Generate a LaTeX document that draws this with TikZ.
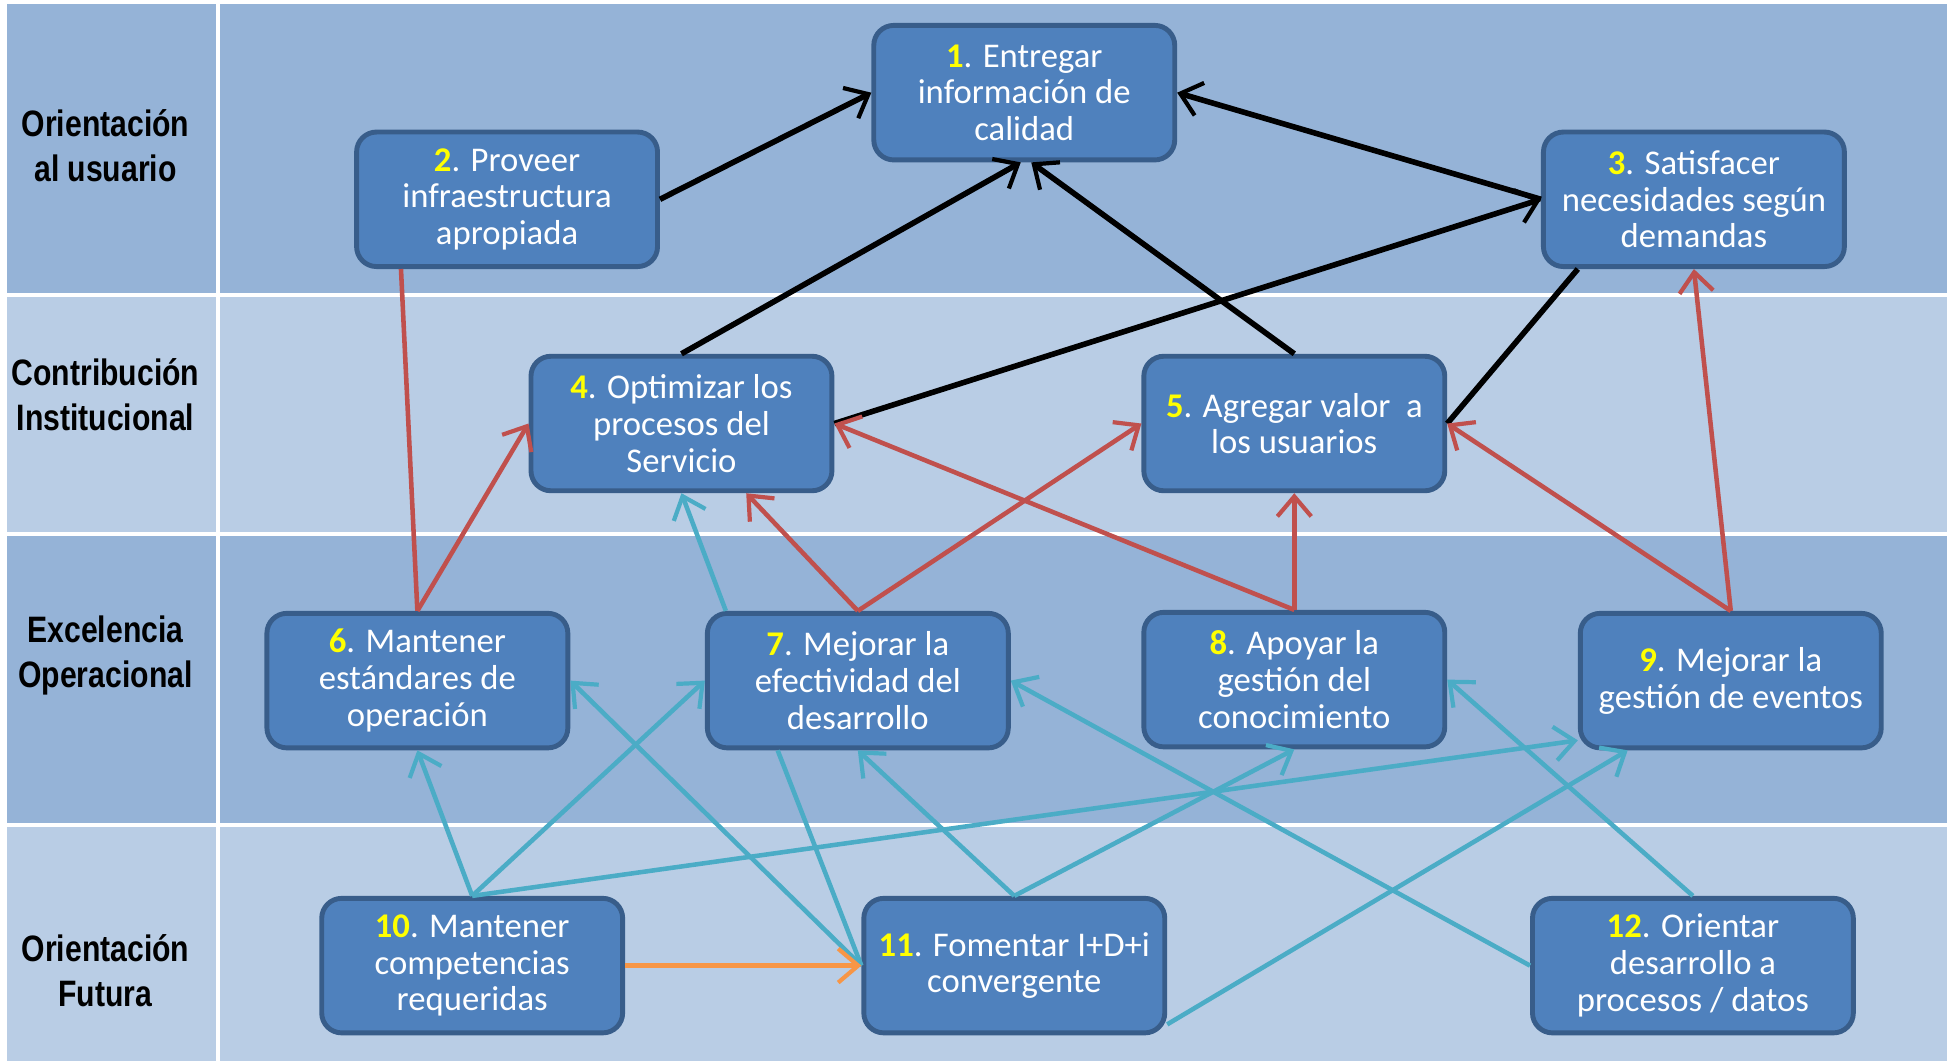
\documentclass[tikz,border=0pt]{standalone}
\usepackage{fontspec}
\setmainfont{Carlito}
\newfontfamily\sidefont[FakeStretch=0.82]{Liberation Sans}
\usetikzlibrary{arrows.meta}

\definecolor{banddark}{HTML}{95B3D7}
\definecolor{bandlight}{HTML}{B9CDE5}
\definecolor{goalfill}{HTML}{4F81BD}
\definecolor{goaldraw}{HTML}{385D8A}
\definecolor{linkred}{HTML}{C0504D}
\definecolor{linkcyan}{HTML}{4BACC6}
\definecolor{linkorange}{HTML}{F79646}
\definecolor{numyellow}{HTML}{FFFF00}

\newcommand{\goalnum}[1]{\textcolor{numyellow}{\bfseries #1}}

\tikzset{
  goal/.style={rectangle, rounded corners=0.2cm, draw=goaldraw, line width=1.4pt,
    fill=goalfill, text=white, align=center, minimum width=3.02cm, minimum height=1.35cm,
    inner sep=1pt, font=\fontsize{9.9}{10.5}\selectfont},
  side/.style={align=center, font=\sidefont\bfseries\fontsize{10.5}{12.8}\selectfont},
  link/.style={line width=1.3pt},
  blacklink/.style={line width=1.6pt, black},
  >={Straight Barb[length=2mm,width=3.4mm,line width=1.2pt]}
}

\begin{document}
\begin{tikzpicture}

\fill[white] (0,0) rectangle (19.51,10.65);

% -- bands
\fill[banddark] (0,7.70) rectangle (19.47,10.61);
\fill[bandlight] (0,5.30) rectangle (19.47,7.70);
\fill[banddark] (0,2.37) rectangle (19.47,5.30);
\fill[bandlight] (0,0) rectangle (19.47,2.37);

\draw[white,line width=1.1pt] (0,7.69) -- (19.47,7.69);
\draw[white,line width=1.1pt] (0,5.29) -- (19.47,5.29);
\draw[white,line width=1.1pt] (0,2.37) -- (19.47,2.37);
\draw[white,line width=1.1pt] (2.12,0) -- (2.12,10.61);

\node [side] (usuario) at (0.99,9.19) {Orientación\\al usuario};
\node [side] (institucional) at (0.99,6.69) {Contribución\\Institucional};
\node [side] (excelencia) at (0.99,4.07) {Excelencia\\Operacional};
\node [side] (futura) at (0.99,0.91) {Orientación\\Futura};

% -- goals
\node [goal] (n1) at (10.21,9.72) {\goalnum{1}. Entregar\\información de\\calidad};
\node [goal] (n2) at (5.02,8.65) {\goalnum{2}. Proveer\\infraestructura\\apropiada};
\node [goal] (n3) at (16.93,8.65) {\goalnum{3}. Satisfacer\\necesidades según\\demandas};

\node [goal] (n4) at (6.77,6.40) {\goalnum{4}. Optimizar los\\procesos del\\Servicio};
\node [goal] (n5) at (12.92,6.40) {\goalnum{5}. Agregar valor~ a\\los usuarios};

\node [goal] (n6) at (4.12,3.82) {\goalnum{6}. Mantener\\estándares de\\operación};
\node [goal] (n7) at (8.54,3.82) {\goalnum{7}. Mejorar la\\efectividad del\\desarrollo};
\node [goal] (n8) at (12.92,3.83) {\goalnum{8}. Apoyar la\\gestión del\\conocimiento};
\node [goal] (n9) at (17.30,3.82) {\goalnum{9}. Mejorar la\\gestión de eventos};

\node [goal] (n10) at (4.67,0.96) {\goalnum{10}. Mantener\\competencias\\requeridas};
\node [goal] (n11) at (10.11,0.96) {\goalnum{11}. Fomentar I+D+i\\convergente};
\node [goal,minimum width=3.22cm] (n12) at (16.92,0.96) {\goalnum{12}. Orientar\\desarrollo a\\procesos / datos};

% -- black links
\draw[blacklink,->] (n2.east) -- (n1.west);
\draw[blacklink,->] (n4.north) -- ([xshift=-1pt]n1.south);
\draw[blacklink,->] (n5.north) -- ([xshift=2pt]n1.south);
\draw[blacklink,->] (n3.west) -- (n1.east);
\draw[blacklink,->] (n4.east) -- (n3.west);
\draw[blacklink] (n5.east) -- ([xshift=0.37cm]n3.south west);

% -- red links
\draw[link,linkred] (n6.north) -- ([xshift=0.47cm]n2.south west);
\draw[link,linkred,->] (n6.north) -- (n4.west);
\draw[link,linkred,->] (n7.north) -- ([xshift=0.65cm]n4.south);
\draw[link,linkred,->] (n7.north) -- (n5.west);
\draw[link,linkred,->] (n8.north) -- (n4.east);
\draw[link,linkred,->] (n8.north) -- (n5.south);
\draw[link,linkred,->] (n9.north) -- (n5.east);
\draw[link,linkred,->] (n9.north) -- (n3.south);

% -- cyan links
\draw[link,linkcyan,->] ([xshift=0.21cm]n7.north west) -- (n4.south);
\draw[link,linkcyan,->] (n10.north) -- (n6.south);
\draw[link,linkcyan,->] (n10.north) -- (n7.west);
\draw[link,linkcyan,->] (n10.north) -- ([yshift=0.1cm]n9.south west);
\draw[link,linkcyan,->] (n11.west) -- (n6.east);
\draw[link,linkcyan] ([xshift=0.73cm]n7.south west) -- (n11.west);
\draw[link,linkcyan,->] (n11.north) -- (n7.south);
\draw[link,linkcyan,->] (n11.north) -- (n8.south);
\draw[link,linkcyan,->] ([yshift=0.11cm]n11.south east) -- ([xshift=0.5cm]n9.south west);
\draw[link,linkcyan,->] (n12.west) -- (n7.east);
\draw[link,linkcyan,->] (n12.north) -- (n8.east);

% -- orange link
\draw[link,linkorange,->] (n10.east) -- (n11.west);

\end{tikzpicture}
\end{document}
